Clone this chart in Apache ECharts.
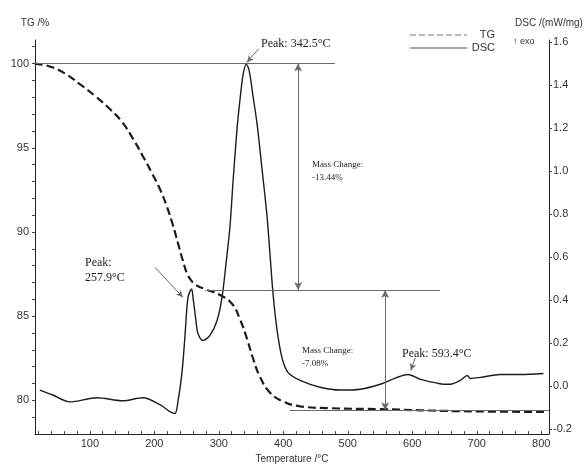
<!DOCTYPE html>
<html><head><meta charset="utf-8">
<script src="https://cdn.jsdelivr.net/npm/echarts@6/dist/echarts.min.js"></script>
<style>html,body{margin:0;padding:0;background:#fff}#c{width:586px;height:469px}</style>
</head><body><div id="c"></div>
<script>
// ---- data ----
const tgTemp  = [14.6, 37.9, 61.2, 84.5, 107.8, 131.1, 149.7, 166.8, 182.3, 196.3, 208.7, 219.6, 228.9, 236.6, 244.4, 252.2, 263.0, 278.6, 301.9, 320.5, 332.9, 343.8, 353.1, 363.9, 379.5, 399.7, 426.1, 472.7, 550.3, 674.5, 806.5];
const tgValue = [100.0, 99.83, 99.42, 98.78, 98.09, 97.30, 96.55, 95.55, 94.50, 93.50, 92.55, 91.50, 90.40, 89.35, 88.29, 87.42, 86.90, 86.61, 86.26, 85.74, 84.81, 83.65, 82.49, 81.39, 80.46, 79.94, 79.65, 79.54, 79.48, 79.36, 79.32];

const dscTemp  = [22.4, 42.5, 68.9, 110.9, 151.2, 182.3, 208.7, 224.2, 232.0, 236.6, 242.9, 247.5, 252.2, 257.9, 260.0, 264.6, 267.7, 275.5, 286.3, 297.2, 305.0, 311.2, 317.4, 322.0, 328.3, 332.9, 337.6, 342.5, 346.9, 353.1, 359.3, 367.1, 374.8, 379.5, 384.2, 390.4, 398.1, 407.5, 426.1, 457.1, 488.2, 519.3, 550.3, 576.7, 593.4, 612.4, 638.8, 648.1, 659.0, 674.5, 685.4, 690.1, 705.6, 736.6, 767.7, 803.4];
const dscValue = [-0.018, -0.041, -0.073, -0.054, -0.068, -0.054, -0.086, -0.118, -0.127, -0.073, 0.063, 0.231, 0.413, 0.452, 0.413, 0.304, 0.245, 0.213, 0.236, 0.304, 0.413, 0.571, 0.744, 0.948, 1.197, 1.333, 1.447, 1.497, 1.470, 1.347, 1.220, 1.007, 0.789, 0.608, 0.426, 0.259, 0.131, 0.063, 0.027, -0.005, -0.018, -0.014, 0.009, 0.041, 0.054, 0.032, 0.014, 0.009, 0.009, 0.027, 0.050, 0.036, 0.041, 0.054, 0.054, 0.059];

const xTicks   = [100, 200, 300, 400, 500, 600, 700, 800];
const xMinor   = [20,40,60,80,100,120,140,160,180,200,220,240,260,280,300,320,340,360,380,400,420,440,460,480,500,520,540,560,580,600,620,640,660,680,700,720,740,760,780,800];
const tgTicks  = [80, 85, 90, 95, 100];
const tgMinor  = [79,80,81,82,83,84,85,86,87,88,89,90,91,92,93,94,95,96,97,98,99,100,101];
const dscTicks = [-0.2, 0.0, 0.2, 0.4, 0.6, 0.8, 1.0, 1.2, 1.4, 1.6];
const seriesNames = ['TG', 'DSC'];

// annotations (data space)
const tgLevels   = [100, 86.56, 79.42];
const levelSpans = [[15, 480], [279, 643], [410, 812]];
const massArrowT = [423, 558];
const peakArrows = [[[362, 1.569], [343.5, 1.505]], [[200.9, 0.553], [244.4, 0.413]], [[604.7, 0.132], [597.5, 0.073]]];

const tgData  = tgTemp.map((t, i) => [t, tgValue[i]]);
const dscData = dscTemp.map((t, i) => [t, dscValue[i]]);

const LINE = '#1c1c1c', ANN = '#6a6a6a';
const sans = 'Liberation Sans', serif = 'Liberation Serif';

const chart = echarts.init(document.getElementById('c'), null, {renderer: 'canvas'});

const levelLines = tgLevels.map((v, i) => [
  {coord: [levelSpans[i][0], v], symbol: 'none'},
  {coord: [levelSpans[i][1], v], symbol: 'none'}
]);
const massArrows = massArrowT.map((t, i) => [
  {coord: [t, tgLevels[i]], symbol: 'arrow'},
  {coord: [t, tgLevels[i + 1]], symbol: 'arrow'}
]);
const peakLines = peakArrows.map(p => [
  {coord: p[0], symbol: 'none'},
  {coord: p[1], symbol: 'arrow'}
]);

chart.setOption({
  animation: false,
  backgroundColor: '#fff',
  grid: {left: 35, right: 37, top: 40, bottom: 25, containLabel: false},
  xAxis: {
    type: 'value', min: 15, max: 812,
    name: 'Temperature /°C', nameLocation: 'middle', nameGap: 19,
    nameTextStyle: {fontFamily: sans, fontSize: 10, color: '#333'},
    axisLine: {onZero: false, lineStyle: {color: '#222', width: 1}},
    axisTick: {show: true, inside: true, length: 3, customValues: xMinor, lineStyle: {color: '#444'}},
    axisLabel: {customValues: xTicks, fontFamily: sans, fontSize: 11, color: '#333', margin: 4},
    splitLine: {show: false}
  },
  yAxis: [{
    type: 'value', min: 78, max: 101.4, position: 'left',
    name: 'TG /%', nameLocation: 'end', nameGap: 12,
    nameTextStyle: {fontFamily: sans, fontSize: 10, color: '#333'},
    axisLine: {show: true, onZero: false, lineStyle: {color: '#222', width: 1}},
    axisTick: {show: true, length: 3, customValues: tgMinor, lineStyle: {color: '#444'}},
    axisLabel: {customValues: tgTicks, fontFamily: sans, fontSize: 11, color: '#333', margin: 6},
    splitLine: {show: false}
  }, {
    type: 'value', min: -0.2227, max: 1.609, position: 'right',
    name: 'DSC /(mW/mg)', nameLocation: 'end', nameGap: 12,
    nameTextStyle: {fontFamily: sans, fontSize: 10, color: '#333'},
    axisLine: {show: true, onZero: false, lineStyle: {color: '#222', width: 1}},
    axisTick: {show: true, length: 3, customValues: dscTicks, lineStyle: {color: '#444'}},
    axisLabel: {customValues: dscTicks, formatter: v => v.toFixed(1), fontFamily: sans, fontSize: 11, color: '#333', margin: 4},
    splitLine: {show: false}
  }],
  series: [{
    name: seriesNames[0], type: 'line', yAxisIndex: 0, data: tgData, symbol: 'none', smooth: 0.45,
    lineStyle: {color: LINE, width: 2.2, type: [8, 4]}, itemStyle: {color: LINE},
    markLine: {
      silent: true, symbolSize: [6, 8], label: {show: false},
      lineStyle: {color: ANN, width: 1, type: 'solid'},
      data: levelLines.concat(massArrows)
    },
    z: 3
  }, {
    name: seriesNames[1], type: 'line', yAxisIndex: 1, data: dscData, symbol: 'none', smooth: 0.3,
    lineStyle: {color: LINE, width: 1.4}, itemStyle: {color: LINE},
    markLine: {
      silent: true, symbolSize: [5, 7], label: {show: false},
      lineStyle: {color: ANN, width: 1, type: 'solid'},
      data: peakLines
    },
    z: 4
  }],
  graphic: [
    // legend
    {type: 'line', shape: {x1: 410, y1: 35, x2: 467, y2: 35}, style: {stroke: '#777', lineWidth: 1.2, lineDash: [6, 3]}},
    {type: 'text', right: 91, top: 29, style: {text: seriesNames[0], font: '11px ' + sans, fill: '#333', align: 'right'}},
    {type: 'line', shape: {x1: 410, y1: 48, x2: 467, y2: 48}, style: {stroke: '#555', lineWidth: 1.2}},
    {type: 'text', right: 91, top: 42, style: {text: seriesNames[1], font: '11px ' + sans, fill: '#333', align: 'right'}},
    // annotations
    {type: 'text', left: 261, top: 38, style: {text: 'Peak: 342.5°C', font: '12px ' + serif, fill: '#222'}},
    {type: 'text', left: 85, top: 255, style: {text: 'Peak:\n257.9°C', font: '12px ' + serif, lineHeight: 15, fill: '#222'}},
    {type: 'text', left: 312, top: 158, style: {text: 'Mass Change:\n-13.44%', font: '9px ' + serif, lineHeight: 13, fill: '#222'}},
    {type: 'text', left: 302, top: 344, style: {text: 'Mass Change:\n-7.08%', font: '9px ' + serif, lineHeight: 13, fill: '#222'}},
    {type: 'text', left: 402, top: 348, style: {text: 'Peak: 593.4°C', font: '12px ' + serif, fill: '#222'}},
    {type: 'text', left: 513, top: 37, style: {text: '↑ exo', font: '9px ' + sans, fill: '#333'}}
  ]
});
</script>
</body></html>
